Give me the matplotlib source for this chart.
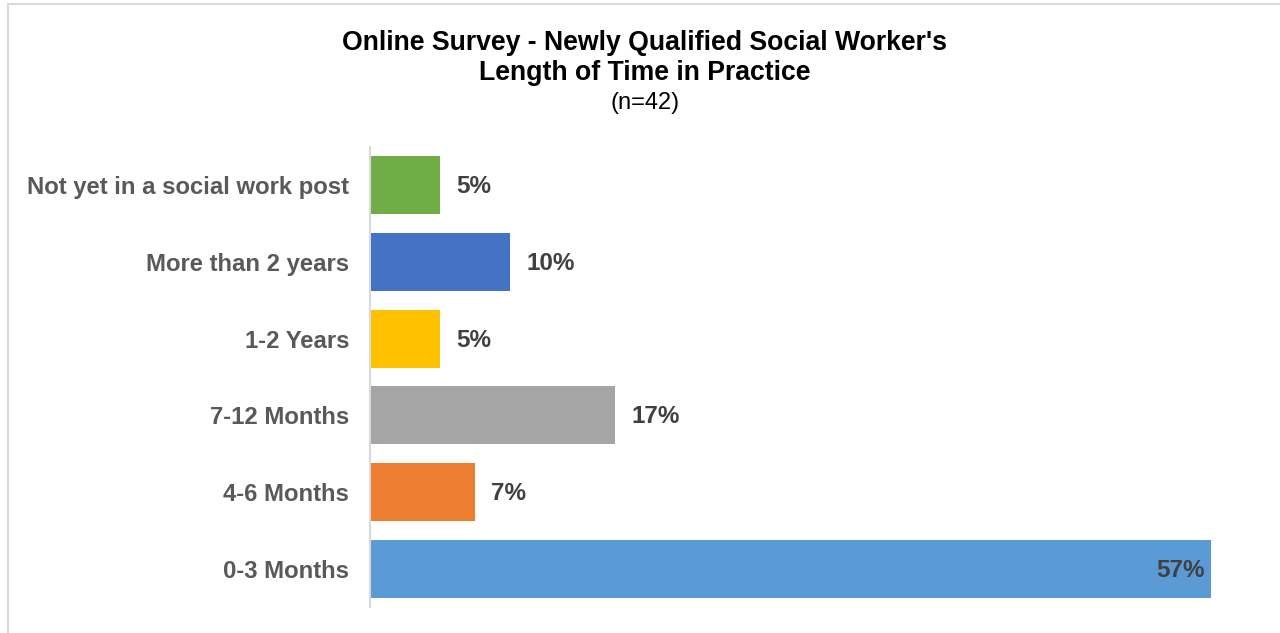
import numpy as np
import matplotlib.pyplot as plt
from matplotlib.lines import Line2D

plt.rcParams['font.family'] = ['Liberation Sans', 'DejaVu Sans']

# bottom-to-top order
categories = ['0-3 Months', '4-6 Months', '7-12 Months', '1-2 Years',
              'More than 2 years', 'Not yet in a social work post']
counts = [24, 3, 7, 2, 4, 2]
n_total = 42
percent = [100.0 * c / n_total for c in counts]
colors = ['#5B9BD5', '#ED7D31', '#A5A5A5', '#FFC000', '#4472C4', '#70AD47']

fig = plt.figure(figsize=(12.8, 6.33), dpi=100)
ax = fig.add_axes([370 / 1280, 1 - 607.4 / 633, (1253 - 370) / 1280, (607.4 - 146.6) / 633])

y = np.arange(len(categories))
ax.barh(y, percent, height=0.755, color=colors)
ax.set_xlim(0, 60)
ax.set_ylim(-0.5, len(categories) - 0.5)

for yi, p in zip(y, percent):
    label = '{:.0f}%'.format(p)
    if p > 50:
        ax.text(p - 0.4, yi - 0.02, label, ha='right', va='center', fontsize=17.5,
                fontweight='bold', color='#404040')
    else:
        ax.text(p + 1.1, yi - 0.02, label, ha='left', va='center', fontsize=17.5,
                fontweight='bold', color='#404040')

ax.set_yticks(y)
ax.set_yticklabels(categories, fontsize=17.2, fontweight='bold', color='#595959')
ax.tick_params(axis='y', length=0, pad=15)
ax.set_xticks([])
for s in ['top', 'right', 'bottom']:
    ax.spines[s].set_visible(False)
ax.spines['left'].set_color('#D9D9D9')
ax.spines['left'].set_linewidth(1.5)

fig.text(645 / 1280, 1 - 43 / 633, "Online Survey - Newly Qualified Social Worker's",
         ha='center', va='center', fontsize=19.2, fontweight='bold', color='black')
fig.text(645 / 1280, 1 - 73 / 633, 'Length of Time in Practice',
         ha='center', va='center', fontsize=19.2, fontweight='bold', color='black')
fig.text(645 / 1280, 1 - 103 / 633, '(n=42)',
         ha='center', va='center', fontsize=17, color='black')

# chart area frame (top and left edges visible)
fig.add_artist(Line2D([8 / 1280, 1], [1 - 4 / 633, 1 - 4 / 633], color='#D9D9D9',
                      lw=1.5, transform=fig.transFigure))
fig.add_artist(Line2D([8 / 1280, 8 / 1280], [0, 1 - 4 / 633], color='#D9D9D9',
                      lw=1.5, transform=fig.transFigure))

fig.savefig('out.png', dpi=100)
